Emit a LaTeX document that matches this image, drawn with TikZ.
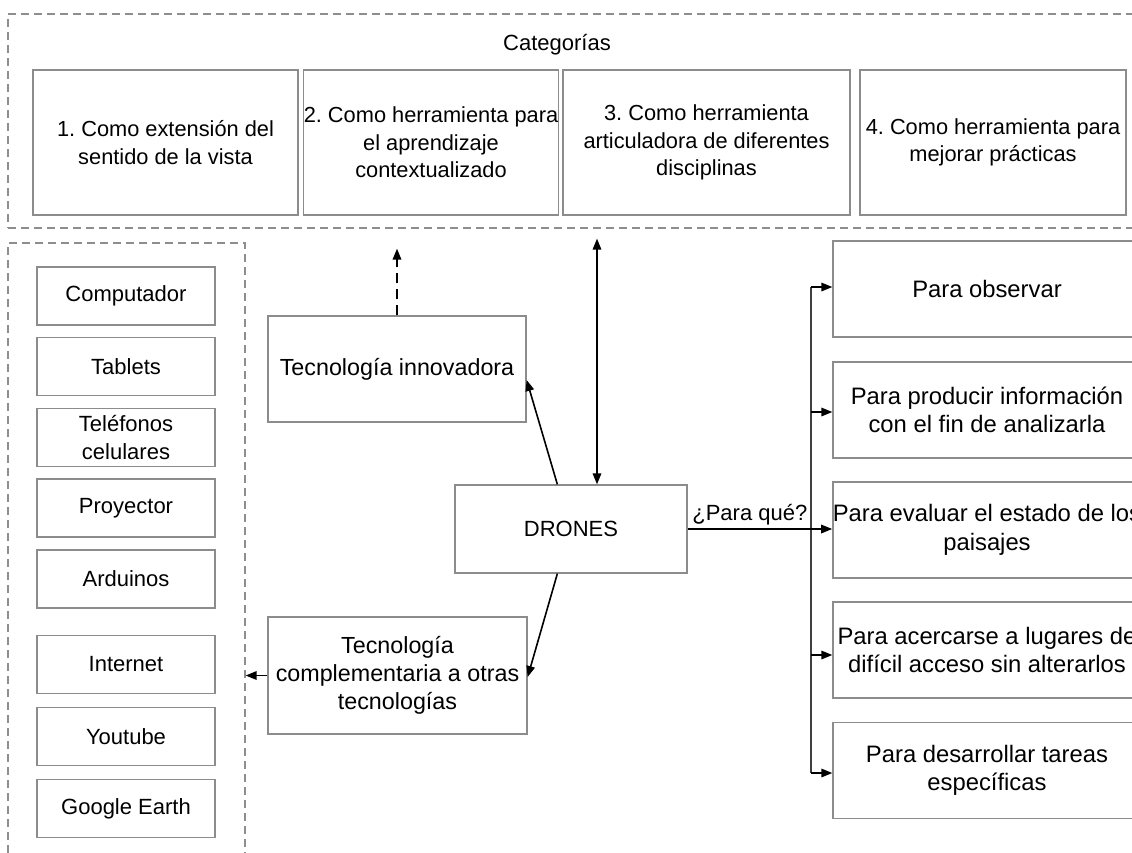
\documentclass[tikz,border=0pt]{standalone}
\usepackage{fontspec}
\setmainfont{Liberation Sans}
\usetikzlibrary{arrows.meta}
\definecolor{boxgray}{HTML}{8C8C8C}
\definecolor{dashgray}{HTML}{8E8E8E}
\frenchspacing
\begin{document}
\begin{tikzpicture}[x=1pt,y=-1pt,
  txt/.style={font=\fontsize{22}{27.5}\selectfont},
  box/.style={draw=boxgray, line width=1.3pt, fill=white, inner sep=0pt, align=center, txt},
  catbox/.style={box, minimum height=145pt, font=\fontsize{21.8}{27.5}\selectfont},
  itembox/.style={box, minimum width=178pt, minimum height=58pt},
  midbox/.style={box, font=\fontsize{23.3}{28}\selectfont},
  usebox/.style={box, minimum width=308pt, minimum height=96pt, font=\fontsize{23.8}{28.5}\selectfont},
  frame/.style={draw=dashgray, line width=1.2pt, dash pattern=on 8pt off 5pt, inner sep=0pt},
  tip/.style={-{Triangle[length=11pt,width=8.5pt]}},
  arr/.style={black, line width=1.6pt, tip},
  dblarr/.style={black, line width=1.6pt, {Triangle[length=11pt,width=8.5pt]}-{Triangle[length=11pt,width=8.5pt]}},
  dasharr/.style={black, line width=1.8pt, dash pattern=on 10pt off 6pt, tip},
  bus/.style={draw=black!75, line width=1.5pt}
]
\useasboundingbox (0,0) rectangle (1132,852);
\clip (0,0) rectangle (1132,852);

% dashed group frames
\node[frame, minimum width=1132pt, minimum height=214pt] (catframe) at (574,121) {};
\node[frame, minimum width=237pt, minimum height=627pt] (techframe) at (126.5,556.5) {};

% categories
\node[txt] (cattitle) at (557,45) {Categorías};
\node[catbox, minimum width=265pt] (c1) at (165.5,142.5) {1. Como extensión del\\sentido de la vista};
\node[catbox, minimum width=245pt] (c2) at (431,142.5) {2. Como herramienta para\\el aprendizaje\\contextualizado};
\node[catbox, minimum width=287pt] (c3) at (706.5,142.5) {3. Como herramienta\\articuladora de diferentes\\disciplinas};
\node[catbox, minimum width=266pt] (c4) at (993,142.5) {4. Como herramienta para\\mejorar prácticas};

% other technologies
\node[itembox] (t1) at (126,296) {Computador};
\node[itembox] (t2) at (126,366.5) {Tablets};
\node[itembox] (t3) at (126,437.5) {Teléfonos\\celulares};
\node[itembox] (t4) at (126,508) {Proyector};
\node[itembox] (t5) at (126,579) {Arduinos};
\node[itembox] (t6) at (126,664.5) {Internet};
\node[itembox] (t7) at (126,736.5) {Youtube};
\node[itembox] (t8) at (126,808.5) {Google Earth};

% central nodes
\node[box, minimum width=232pt, minimum height=88pt] (drones) at (571,529) {DRONES};
\node[midbox, minimum width=258pt, minimum height=106pt] (innov) at (397,369) {Tecnología innovadora};
\node[midbox, minimum width=259pt, minimum height=117pt] (comp) at (397.5,675.5) {Tecnología\\complementaria a otras\\tecnologías};

% purposes
\node[usebox] (u1) at (987,289) {Para observar};
\node[usebox] (u2) at (987,410) {Para producir información\\con el fin de analizarla};
\node[usebox] (u3) at (987,530) {Para evaluar el estado de los\\paisajes};
\node[usebox] (u4) at (987,650) {Para acercarse a lugares de\\difícil acceso sin alterarlos};
\node[usebox] (u5) at (987,770.5) {Para desarrollar tareas\\específicas};

% connectors
\draw[dasharr] (innov.north) -- ([yshift=-20pt]innov.north |- catframe.south);
\draw[dblarr] ([xshift=26pt]drones.north) -- ([xshift=26pt,yshift=-10pt]drones.north |- catframe.south);
\draw[arr] ([xshift=103pt]drones.north west) -- ([yshift=-11pt]innov.east);
\draw[arr] ([xshift=103pt]drones.south west) -- ([yshift=-1.5pt]comp.east);
\draw[arr] (comp.west) -- (comp.west -| techframe.east);

\coordinate (busx) at (811,530);
\draw[bus] ([yshift=2pt]busx |- u1.west) -- ([yshift=-2.5pt]busx |- u5.west);
\foreach \u/\dy in {u1/2, u2/-2, u4/-5, u5/-2.5}
  \draw[arr] ([yshift=\dy pt]busx |- \u.west) -- ([yshift=\dy pt]\u.west);
\draw[arr] (drones.east) -- node[above, pos=0.43, inner sep=3pt, font=\fontsize{22}{27}\selectfont] {¿Para qué?} (drones.east -| u3.west);
\end{tikzpicture}
\end{document}
